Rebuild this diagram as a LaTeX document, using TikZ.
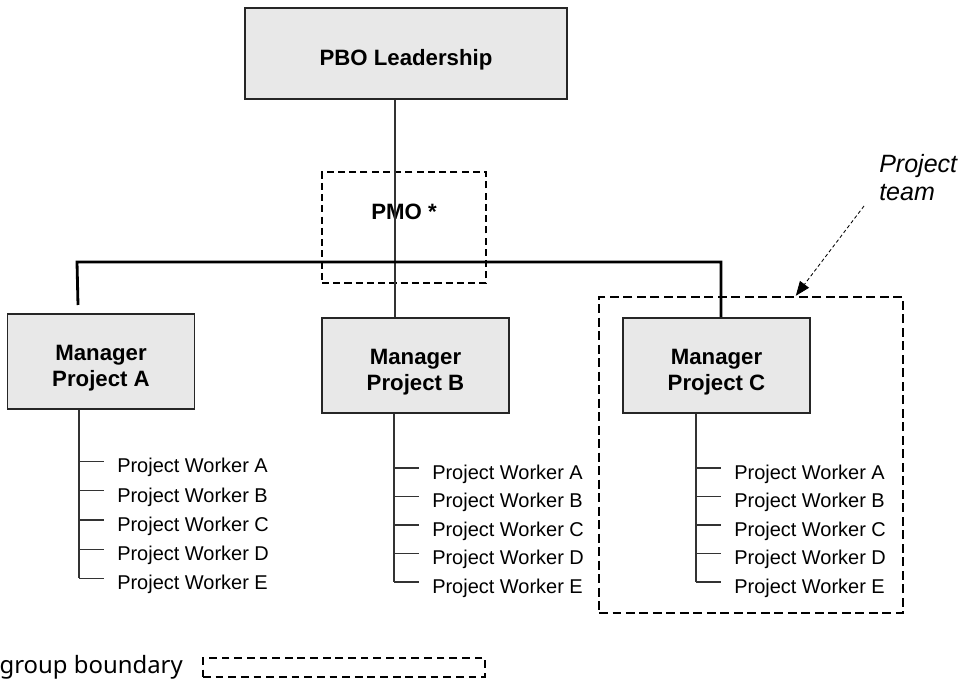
\documentclass[tikz,border=0pt]{standalone}
\usepackage{fontspec}
\setmainfont{Liberation Sans}
\newfontfamily\legendfont{Noto Sans}
\usetikzlibrary{calc,positioning,arrows.meta}

\definecolor{boxgray}{HTML}{E8E8E8}
\newcommand{\boxstrut}{\rule{0pt}{21pt}}

\tikzset{
  orgbox/.style={draw=black!85, line width=1.1pt, fill=boxgray, align=center,
    font=\fontsize{15.8}{18.5}\selectfont\bfseries,
    minimum width=4.675cm, minimum height=2.375cm, inner sep=0pt},
  link/.style={draw=black!80, line width=0.8pt},
  bar/.style={line width=2pt},
  worker/.style={anchor=base west, inner sep=0pt, font=\fontsize{14.2}{17}\selectfont},
  groupbox/.style={draw, line width=1.2pt, dash pattern=on 5pt off 3pt, inner sep=0pt},
  teambox/.style={draw, line width=1.7pt, dash pattern=on 6.4pt off 3.2pt, inner sep=0pt},
  pointer/.style={line width=0.6pt, dash pattern=on 2.5pt off 1.8pt, -{Triangle[length=3.6mm,width=2.8mm]}}
}

\begin{document}
\begin{tikzpicture}
  \useasboundingbox (0,0) rectangle (24.325,17.2);
  % boxes
  \node[orgbox, minimum width=8.05cm, minimum height=2.275cm] (pbo) at (10.15, 15.8625) {\boxstrut PBO Leadership};
  \node[orgbox] (mgrA) at (2.525, 8.1625) {\boxstrut Manager\\Project A};
  \node[orgbox] (mgrB) at (10.3875, 8.0625) {\boxstrut Manager\\Project B};
  \node[orgbox] (mgrC) at (17.9125, 8.0625) {\boxstrut Manager\\Project C};
  % dashed groups
  \node[groupbox, minimum width=4.1cm, minimum height=2.775cm] (pmo) at (10.1, 11.5125) {};
  \node[font=\fontsize{15.8}{18}\selectfont\bfseries] (pmolabel) at (10.1, 11.9) {PMO *};
  \node[teambox, minimum width=7.6cm, minimum height=7.9cm] (team) at (18.775, 5.825) {};
  % reporting lines
  \coordinate (spine) at (9.875, 0);
  \draw[link] (pbo.south -| spine) -- (mgrB.north -| spine);
  \coordinate (barL) at (1.925, 10.65);
  \coordinate (barR) at (18.025, 10.65);
  \coordinate (dropA) at (1.95, 9.575);
  \draw[bar] (dropA) -- (barL) -- (barR) -- (barR |- mgrC.north);
  % workers
  \foreach \m/\x/\y/\d in {mgrA/1.975/5.6575/0.729, mgrB/9.85/5.5/0.7125, mgrC/17.4/5.5/0.7125} {
    \foreach \w [count=\i from 0] in {A,B,C,D,E} {
      \coordinate (\m-t\w) at (\x, \y-\i*\d);
      \draw[link] (\m-t\w) -- ++(0.625,0);
      \node[worker] (\m-w\w) at ($(\m-t\w)+(0.95,-0.28)$) {Project Worker \w};
    }
    \draw[link] (\m.south -| \m-tA) -- (\m-tE);
  }
  % note
  \node[font=\fontsize{17.8}{19.9}\selectfont\itshape, align=left, anchor=north west, inner sep=0pt] (teamnote) at (21.975, 13.35) {Project\\team};
  \coordinate (notetail) at (21.6, 12.05);
  \draw[pointer] (notetail) -- ($(team.north west)+(4.95,0)$);
  % legend
  \node[groupbox, line width=1pt, dash pattern=on 5.5pt off 3.5pt, minimum width=7.05cm, minimum height=0.475cm] (legendbox) at (8.6, 0.5125) {};
  \node[anchor=base east, inner sep=0pt, font=\legendfont\fontsize{17}{20}\selectfont] (legendtext) at (4.575, 0.35) {group boundary};
\end{tikzpicture}
\end{document}
